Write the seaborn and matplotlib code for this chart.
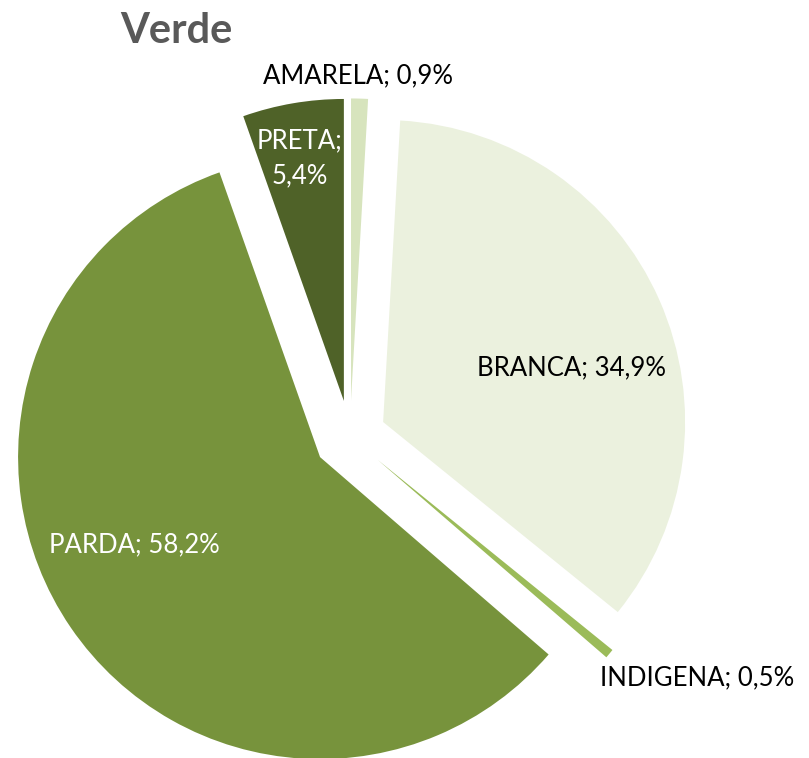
import matplotlib
matplotlib.use("Agg")
import matplotlib.pyplot as plt
import seaborn as sns

categories = ["AMARELA", "BRANCA", "INDIGENA", "PARDA", "PRETA"]
values = [0.9, 34.9, 0.5, 58.2, 5.4]
value_labels = ["0,9%", "34,9%", "0,5%", "58,2%", "5,4%"]
colors = ["#D7E4BD", "#EBF1DE", "#9BBB59", "#77933C", "#4F6228"]
text_colors = ["black", "black", "black", "white", "white"]
label_pos = [(0.026, 1.194), (0.735, 0.227), (1.149, -0.800), (-0.715, -0.359), (-0.166, 0.922)]
label_sep = ["; ", "; ", "; ", "; ", ";\n"]

sns.set_theme(style="white")
plt.rcParams['font.family'] = ['Lato', 'DejaVu Sans']

fig = plt.figure(figsize=(8.09, 7.58), dpi=100)
ax = fig.add_axes([0, 0, 1, 1])
ax.pie(values, colors=colors, startangle=90, counterclock=False,
       explode=[0.12] * len(values), radius=1.0,
       wedgeprops=dict(linewidth=0))
ax.set_xlim(-1.159, 1.520)
ax.set_ylim(-1.064, 1.446)
ax.set_aspect('auto')
ax.axis('off')

for cat, vl, tc, pos, sep in zip(categories, value_labels, text_colors, label_pos, label_sep):
    ax.text(pos[0], pos[1], f"{cat}{sep}{vl}", color=tc, fontsize=18.5,
            ha='center', va='center', linespacing=1.5)

fig.text(176 / 809, 1 - 31 / 758, "Verde", fontsize=30, fontweight='bold',
         color="#595959", ha='center', va='center')

fig.savefig("out.png", dpi=100)
